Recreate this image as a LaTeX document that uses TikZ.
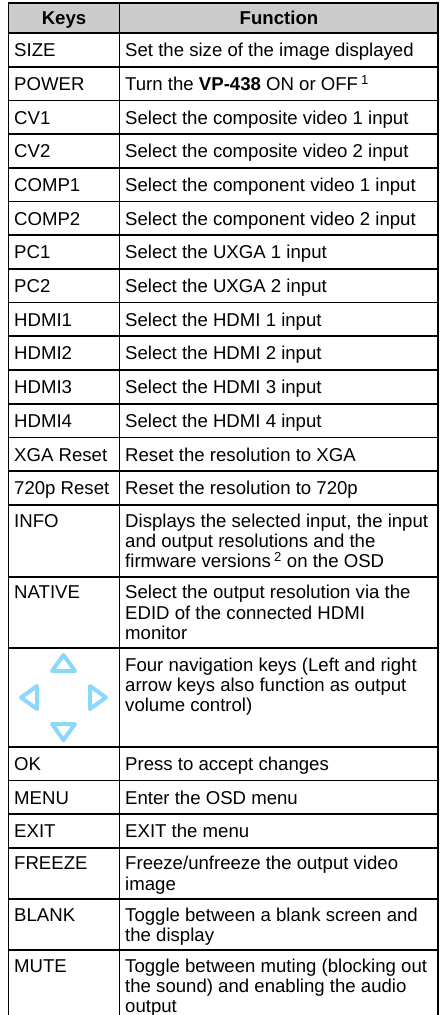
\documentclass[tikz,border=0pt]{standalone}
\usepackage{fontspec}
\setmainfont{Liberation Sans}
\definecolor{navblue}{RGB}{140,216,250}
\definecolor{headgray}{RGB}{204,204,204}
\newcommand{\ml}[1]{\parbox[t]{312pt}{\raggedright #1}}
\begin{document}
\begin{tikzpicture}[x=1pt,y=-1pt,
  grid/.style={line width=1.7pt, line cap=rect},
  cell/.style={anchor=base west, inner sep=0pt, font=\fontsize{18.6}{20.3}\selectfont},
  head/.style={anchor=base, inner sep=0pt, font=\fontsize{18.6}{20.3}\selectfont\bfseries},
  navtri/.style={draw=navblue, line width=4pt, line join=round}]
\useasboundingbox (0,0) rectangle (441,1015);
% header fill
\fill[headgray] (8.5,3) rectangle (438,33);
% horizontal rules
\foreach \y in {3,33,66.7,100.4,134.1,167.8,201.5,235.2,268.9,302.6,336.3,370,403.7,437.4,471.1,504.8,576.8,648,747,780.6,814.2,847.8,899,950}
  \draw[grid] (8.5,\y) -- (438,\y);
% vertical rules
\draw[grid] (8.5,3) -- (8.5,1016);
\draw[grid] (119.5,3) -- (119.5,1016);
\draw[grid] (438,3) -- (438,1016);
% header
\node[head] (hk) at (64,24.8) {Keys};
\node[head] (hf) at (279,24.8) {Function};
% rows
\node[cell] (k1) at (14,56.6) {SIZE};
\node[cell] (f1) at (125,56.6) {Set the size of the image displayed};
\node[cell] (k2) at (14,90.3) {POWER};
\node[cell] (f2) at (125,90.3) {Turn the \textbf{VP-438} ON or OFF\,\textsuperscript{1}};
\node[cell] (k3) at (14,124) {CV1};
\node[cell] (f3) at (125,124) {Select the composite video 1 input};
\node[cell] (k4) at (14,157.7) {CV2};
\node[cell] (f4) at (125,157.7) {Select the composite video 2 input};
\node[cell] (k5) at (14,191.4) {COMP1};
\node[cell] (f5) at (125,191.4) {Select the component video 1 input};
\node[cell] (k6) at (14,225.1) {COMP2};
\node[cell] (f6) at (125,225.1) {Select the component video 2 input};
\node[cell] (k7) at (14,258.8) {PC1};
\node[cell] (f7) at (125,258.8) {Select the UXGA 1 input};
\node[cell] (k8) at (14,292.5) {PC2};
\node[cell] (f8) at (125,292.5) {Select the UXGA 2 input};
\node[cell] (k9) at (14,326.2) {HDMI1};
\node[cell] (f9) at (125,326.2) {Select the HDMI 1 input};
\node[cell] (k10) at (14,359.9) {HDMI2};
\node[cell] (f10) at (125,359.9) {Select the HDMI 2 input};
\node[cell] (k11) at (14,393.6) {HDMI3};
\node[cell] (f11) at (125,393.6) {Select the HDMI 3 input};
\node[cell] (k12) at (14,427.3) {HDMI4};
\node[cell] (f12) at (125,427.3) {Select the HDMI 4 input};
\node[cell] (k13) at (14,461) {XGA Reset};
\node[cell] (f13) at (125,461) {Reset the resolution to XGA};
\node[cell] (k14) at (14,494.7) {720p Reset};
\node[cell] (f14) at (125,494.7) {Reset the resolution to 720p};
\node[cell] (k15) at (14,527.2) {INFO};
\node[cell] (f15) at (125,527.2) {\ml{Displays the selected input, the input\\and output resolutions and the\\firmware versions\,\textsuperscript{2} on the OSD}};
\node[cell] (k16) at (14,598.7) {NATIVE};
\node[cell] (f16) at (125,598.7) {\ml{Select the output resolution via the\\EDID of the connected HDMI\\monitor}};
% navigation keys
\draw[navtri] (63.5,655) -- (75,671) -- (52,671) -- cycle;
\draw[navtri] (63.5,740) -- (52,724) -- (75,724) -- cycle;
\draw[navtri] (21,697.5) -- (37,686) -- (37,709) -- cycle;
\draw[navtri] (106,697.5) -- (90,686) -- (90,709) -- cycle;
\node[cell] (f17) at (125,671) {\ml{Four navigation keys (Left and right\\arrow keys also function as output\\volume control)}};
\node[cell] (k18) at (14,770.6) {OK};
\node[cell] (f18) at (125,770.6) {Press to accept changes};
\node[cell] (k19) at (14,804.2) {MENU};
\node[cell] (f19) at (125,804.2) {Enter the OSD menu};
\node[cell] (k20) at (14,837.8) {EXIT};
\node[cell] (f20) at (125,837.8) {EXIT the menu};
\node[cell] (k21) at (14,869.9) {FREEZE};
\node[cell] (f21) at (125,869.9) {\ml{Freeze/unfreeze the output video\\image}};
\node[cell] (k22) at (14,921) {BLANK};
\node[cell] (f22) at (125,921) {\ml{Toggle between a blank screen and\\the display}};
\node[cell] (k23) at (14,972) {MUTE};
\node[cell] (f23) at (125,972) {\ml{Toggle between muting (blocking out\\the sound) and enabling the audio\\output}};
\end{tikzpicture}
\end{document}
